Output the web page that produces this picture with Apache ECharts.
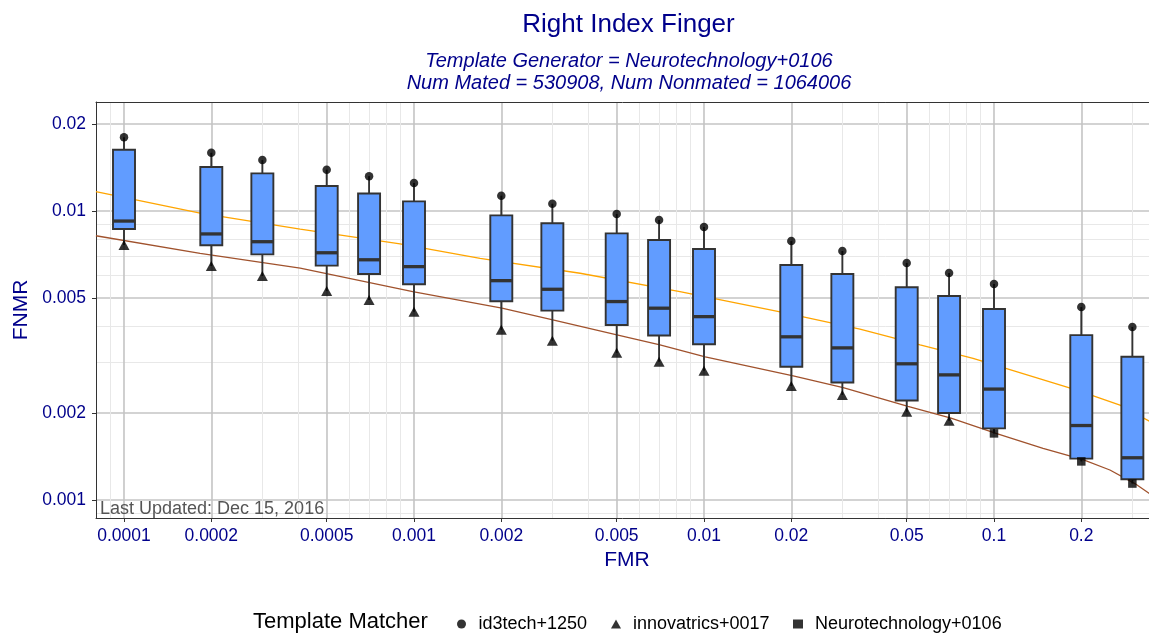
<!DOCTYPE html>
<html>
<head>
<meta charset="utf-8">
<script src="https://cdn.jsdelivr.net/npm/echarts@6/dist/echarts.min.js"></script>
<style>
html,body{margin:0;padding:0;background:#fff;}
#chart{width:1149px;height:633px;}
</style>
</head>
<body>
<div id="chart"></div>
<script>
// ---- data ----
var fmrLevels = [0.0001, 0.0002, 0.0003, 0.0005, 0.0007, 0.001, 0.002, 0.003, 0.005, 0.007, 0.01, 0.02, 0.03, 0.05, 0.07, 0.1, 0.2, 0.3];
var boxQ3     = [0.0163, 0.0142, 0.0135, 0.0122, 0.0115, 0.0108, 0.00966, 0.00907, 0.00837, 0.00794, 0.00739, 0.0065, 0.00605, 0.00545, 0.00508, 0.00458, 0.00372, 0.00313];
var boxMedian = [0.00923, 0.00833, 0.00783, 0.00717, 0.00678, 0.00642, 0.00574, 0.00536, 0.00486, 0.00461, 0.00431, 0.00367, 0.00336, 0.00296, 0.00271, 0.00242, 0.00181, 0.0014];
var boxQ1     = [0.00866, 0.00761, 0.00708, 0.00647, 0.00605, 0.00558, 0.00487, 0.00452, 0.00403, 0.00371, 0.00346, 0.00289, 0.00255, 0.00221, 0.002, 0.00177, 0.00139, 0.00118];

var id3techFMR  = [0.0001, 0.0002, 0.0003, 0.0005, 0.0007, 0.001, 0.002, 0.003, 0.005, 0.007, 0.01, 0.02, 0.03, 0.05, 0.07, 0.1, 0.2, 0.3];
var id3techFNMR = [0.0180, 0.0159, 0.0150, 0.0139, 0.0132, 0.0125, 0.0113, 0.0106, 0.00976, 0.00931, 0.0088, 0.00787, 0.00727, 0.00661, 0.0061, 0.00559, 0.00465, 0.00397];
var innovFMR    = [0.0001, 0.0002, 0.0003, 0.0005, 0.0007, 0.001, 0.002, 0.003, 0.005, 0.007, 0.01, 0.02, 0.03, 0.05, 0.07];
var innovFNMR   = [0.00763, 0.00645, 0.00596, 0.00529, 0.00492, 0.00448, 0.00388, 0.00356, 0.00323, 0.00301, 0.0028, 0.00248, 0.00231, 0.00202, 0.00188];
var neuroFMR    = [0.1, 0.2, 0.3];
var neuroFNMR   = [0.0017, 0.00136, 0.00114];

var orangeFMR  = [0.00008, 0.000183, 0.000405, 0.000895, 0.00169, 0.00374, 0.00826, 0.0183, 0.0345, 0.0556, 0.0847, 0.130, 0.193, 0.272, 0.345];
var orangeFNMR = [0.01166, 0.00984, 0.00866, 0.00769, 0.00686, 0.00609, 0.00526, 0.00448, 0.0039, 0.00344, 0.00309, 0.00271, 0.0024, 0.00213, 0.00187];
var brownFMR   = [0.00008, 0.000183, 0.000405, 0.00099, 0.00201, 0.00301, 0.00505, 0.00705, 0.0101, 0.0203, 0.0302, 0.0505, 0.0711, 0.1016, 0.1476, 0.2027, 0.251, 0.306, 0.345];
var brownFNMR  = [0.00821, 0.00714, 0.00634, 0.00526, 0.00461, 0.0042, 0.00372, 0.00344, 0.00313, 0.00269, 0.00245, 0.00211, 0.00192, 0.0017, 0.00151, 0.00138, 0.00127, 0.00114, 0.00105];

var xMajorTicks = [0.0001, 0.0002, 0.0005, 0.001, 0.002, 0.005, 0.01, 0.02, 0.05, 0.1, 0.2];
var xMinorTicks = [0.00009, 0.0003, 0.0004, 0.0006, 0.0007, 0.0008, 0.0009, 0.003, 0.004, 0.006, 0.007, 0.008, 0.009, 0.03, 0.04, 0.06, 0.07, 0.08, 0.09, 0.3];
var yMajorTicks = [0.001, 0.002, 0.005, 0.01, 0.02];
var yMinorTicks = [0.0009, 0.003, 0.004, 0.006, 0.007, 0.008, 0.009];

var L = Math.log10;
var navy = '#00008B';

function fmtLog(v) { return String(Number(Math.pow(10, v).toPrecision(3))); }

var boxData = fmrLevels.map(function (f, i) {
  var low = (i < innovFNMR.length) ? innovFNMR[i] : neuroFNMR[i - innovFNMR.length];
  return [L(f), L(low), L(boxQ1[i]), L(boxMedian[i]), L(boxQ3[i]), L(id3techFNMR[i])];
});
function pairs(xs, ys) { return xs.map(function (x, i) { return [L(x), L(ys[i])]; }); }

var xMin = -4 - 28 / 290, xMax = xMin + 1053 / 290;
var yMin = -3 - 18 / 289, yMax = -2 + 109 / 289;

var chart = echarts.init(document.getElementById('chart'), null, {renderer: 'canvas'});
var majorLine = {show: true, lineStyle: {color: '#c4c4c4', width: 1.6}};
var minorLine = {show: true, lineStyle: {color: '#e8e8e8', width: 1}};
var borderLine = {show: true, onZero: false, lineStyle: {color: '#333', width: 1}};

function legendItem(name, icon, left) {
  return {
    left: left, top: 610, orient: 'horizontal', itemWidth: 10, itemHeight: 9, itemGap: 0,
    selectedMode: false,
    textStyle: {color: '#000', fontSize: 18, fontFamily: 'Liberation Sans', padding: [0, 0, 0, 7]},
    data: [{name: name, icon: icon}]
  };
}

chart.setOption({
  animation: false,
  backgroundColor: '#fff',
  grid: {left: 96, top: 102, right: 0, bottom: 115, show: false, containLabel: false},
  xAxis: [{
    type: 'value', min: xMin, max: xMax, gridIndex: 0, position: 'bottom',
    name: 'FMR', nameLocation: 'middle', nameGap: 31,
    nameTextStyle: {color: navy, fontSize: 21, fontFamily: 'Liberation Sans', padding: [0, 0, 0, 9]},
    axisLine: borderLine,
    axisTick: {show: true, length: 4, lineStyle: {color: '#333', width: 1}, customValues: xMajorTicks.map(L)},
    axisLabel: {show: true, margin: 9, color: navy, fontSize: 17.5, fontFamily: 'Liberation Sans', customValues: xMajorTicks.map(L), formatter: fmtLog},
    splitLine: majorLine
  }, {
    type: 'value', min: xMin, max: xMax, gridIndex: 0, position: 'top',
    axisLine: borderLine, axisTick: {show: false, customValues: xMinorTicks.map(L)},
    axisLabel: {show: false, customValues: xMinorTicks.map(L)},
    splitLine: minorLine
  }],
  yAxis: [{
    type: 'value', min: yMin, max: yMax, gridIndex: 0, position: 'left',
    name: 'FNMR', nameLocation: 'middle', nameGap: 59, nameRotate: 90,
    nameTextStyle: {color: navy, fontSize: 21, fontFamily: 'Liberation Sans'},
    axisLine: borderLine,
    axisTick: {show: true, length: 4, lineStyle: {color: '#333', width: 1}, customValues: yMajorTicks.map(L)},
    axisLabel: {show: true, margin: 10, color: navy, fontSize: 17.5, fontFamily: 'Liberation Sans', customValues: yMajorTicks.map(L), formatter: fmtLog},
    splitLine: majorLine
  }, {
    type: 'value', min: yMin, max: yMax, gridIndex: 0, position: 'left',
    axisLine: {show: false}, axisTick: {show: false, customValues: yMinorTicks.map(L)},
    axisLabel: {show: false, customValues: yMinorTicks.map(L)},
    splitLine: minorLine
  }],
  legend: [
    legendItem('id3tech+1250', 'circle', 452),
    legendItem('innovatrics+0017', 'triangle', 606),
    legendItem('Neurotechnology+0106', 'rect', 788)
  ],
  graphic: [
    {type: 'text', x: 628.5, y: 24.5, style: {text: 'Right Index Finger', fill: navy, font: '26px "Liberation Sans"', textAlign: 'center', textVerticalAlign: 'middle'}},
    {type: 'text', x: 629, y: 61.5, style: {text: 'Template Generator = Neurotechnology+0106', fill: navy, font: 'italic 20px "Liberation Sans"', textAlign: 'center', textVerticalAlign: 'middle'}},
    {type: 'text', x: 629, y: 83.5, style: {text: 'Num Mated = 530908, Num Nonmated = 1064006', fill: navy, font: 'italic 20px "Liberation Sans"', textAlign: 'center', textVerticalAlign: 'middle'}},
    {type: 'text', x: 100, y: 509, z: 50, style: {text: 'Last Updated: Dec 15, 2016', fill: '#555', font: '18px "Liberation Sans"', textAlign: 'left', textVerticalAlign: 'middle'}},
    {type: 'text', x: 253, y: 621.5, style: {text: 'Template Matcher', fill: '#000', font: '22px "Liberation Sans"', textAlign: 'left', textVerticalAlign: 'middle'}}
  ],
  series: [
    {type: 'line', name: 'curveA', data: pairs(orangeFMR, orangeFNMR), showSymbol: false, symbol: 'none', lineStyle: {color: '#FFA500', width: 1.3}, z: 2, silent: true},
    {type: 'line', name: 'curveB', data: pairs(brownFMR, brownFNMR), showSymbol: false, symbol: 'none', lineStyle: {color: '#A0522D', width: 1.3}, z: 2, silent: true},
    {
      type: 'custom', name: 'boxes', data: boxData, z: 3, silent: true,
      renderItem: function (params, api) {
        var x = api.value(0);
        var pLo = api.coord([x, api.value(1)]);
        var pQ1 = api.coord([x, api.value(2)]);
        var pMd = api.coord([x, api.value(3)]);
        var pQ3 = api.coord([x, api.value(4)]);
        var pHi = api.coord([x, api.value(5)]);
        var cx = pMd[0], w = 22;
        var st = {stroke: '#333', lineWidth: 1.9};
        return {type: 'group', children: [
          {type: 'line', shape: {x1: cx, y1: pQ3[1], x2: cx, y2: pHi[1]}, style: st},
          {type: 'line', shape: {x1: cx, y1: pQ1[1], x2: cx, y2: pLo[1]}, style: st},
          {type: 'rect', shape: {x: cx - w / 2, y: pQ3[1], width: w, height: pQ1[1] - pQ3[1]}, style: {fill: '#619CFF', stroke: '#333', lineWidth: 1.9}},
          {type: 'line', shape: {x1: cx - w / 2, y1: pMd[1], x2: cx + w / 2, y2: pMd[1]}, style: {stroke: '#333', lineWidth: 3.3}}
        ]};
      }
    },
    {type: 'scatter', name: 'id3tech+1250', data: pairs(id3techFMR, id3techFNMR), symbol: 'circle', symbolSize: 8.5, itemStyle: {color: '#000'}, z: 5},
    {type: 'scatter', name: 'innovatrics+0017', data: pairs(innovFMR, innovFNMR), symbol: 'triangle', symbolSize: [11, 10], itemStyle: {color: '#000'}, z: 5},
    {type: 'scatter', name: 'Neurotechnology+0106', data: pairs(neuroFMR, neuroFNMR), symbol: 'rect', symbolSize: 8.5, itemStyle: {color: '#000'}, z: 5}
  ]
});
</script>
</body>
</html>
